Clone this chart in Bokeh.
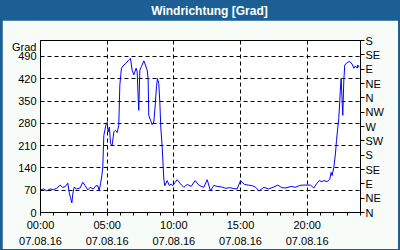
from bokeh.plotting import figure
from bokeh.layouts import column
from bokeh.models import LinearAxis, FixedTicker, Range1d, Label
from bokeh.embed import file_html
from bokeh.resources import INLINE

# ---------------- data ----------------
title_text = "Windrichtung [Grad]"
unit_text = "Grad"

hours = [0.0, 0.22, 0.47, 0.72, 0.97, 1.22, 1.47, 1.65, 1.85, 2.05, 2.15, 2.25, 2.35, 2.42,
         2.52, 2.72, 2.97, 3.17, 3.35, 3.55, 3.72, 3.97, 4.15, 4.3, 4.4, 4.5, 4.6, 4.67,
         4.75, 4.9, 5.0, 5.07, 5.17, 5.25, 5.37, 5.5, 5.62, 5.75, 5.87, 5.95, 6.07, 6.25,
         6.43, 6.62, 6.75, 6.87, 7.0, 7.17, 7.25, 7.33, 7.37, 7.45, 7.57, 7.75, 7.87, 8.0,
         8.07, 8.12, 8.25, 8.37, 8.5, 8.62, 8.7, 8.77, 8.87, 8.95, 9.02, 9.12, 9.25, 9.32,
         9.5, 9.67, 9.8, 9.92, 10.1, 10.25, 10.5, 10.75, 11.0, 11.3, 11.6, 11.9, 12.25,
         12.5, 12.75, 13.0, 13.25, 13.6, 13.9, 14.2, 14.5, 14.75, 15.0, 15.3, 15.6, 15.9,
         16.1, 16.4, 16.75, 17.1, 17.5, 17.8, 18.1, 18.4, 18.8, 19.1, 19.4, 19.6, 19.9,
         20.25, 20.5, 20.7, 20.9, 21.1, 21.25, 21.5, 21.7, 21.8, 21.87, 22.0, 22.12, 22.2,
         22.3, 22.37, 22.45, 22.5, 22.55, 22.62, 22.67, 22.75, 22.82, 23.0, 23.2, 23.37,
         23.5, 23.62, 23.75, 23.8, 23.9]
direction = [71, 74, 68, 74, 72, 76, 86, 79, 81, 92, 63, 47, 30, 58,
             79, 74, 77, 95, 84, 71, 79, 74, 84, 84, 68, 90, 115, 142,
             242, 274, 283, 253, 268, 217, 210, 253, 258, 251, 274, 400, 453, 463,
             469, 479, 484, 447, 432, 453, 442, 358, 321, 447, 458, 476, 463, 447,
             421, 305, 290, 276, 284, 347, 395, 421, 405, 347, 268, 210, 105, 84,
             100, 84, 90, 84, 95, 103, 90, 79, 88, 82, 100, 85, 79,
             103, 68, 85, 82, 80, 76, 78, 75, 74, 100, 88, 86, 84,
             80, 68, 79, 74, 80, 86, 78, 77, 82, 79, 84, 86, 86,
             86, 77, 90, 100, 97, 100, 97, 105, 126, 116, 142, 184, 226,
             268, 295, 353, 395, 421, 353, 305, 416, 463, 471, 474, 466,
             453, 460, 453, 463, 456]

y_ticks = [0, 70, 140, 210, 280, 350, 420, 490]
compass_ticks = [0, 45, 90, 135, 180, 225, 270, 315, 360, 405, 450, 495, 540]
compass_labels = ["N", "NE", "E", "SE", "S", "SW", "W", "NW", "N", "NE", "E", "SE", "S"]
x_ticks = [0, 5, 10, 15, 20]
x_tick_labels = ["00:00\n07.08.16", "05:00\n07.08.16", "10:00\n07.08.16",
                 "15:00\n07.08.16", "20:00\n07.08.16"]

# ---------------- layout geometry ----------------
X0, X1 = 0, 24
Y0, Y1 = 0, 540
W, H = 400, 250
BAR = 20          # title bar height
EDGE = 2          # blue frame width
FW, FH = 320, 172
FL = 40 - EDGE    # frame left inside each figure
FT = 40 - BAR     # frame top inside main figure
MW, MH = W - 2 * EDGE, H - BAR - EDGE
FR = MW - FL - FW
BLUE = "#1c5f94"
LIGHT = "#f8fcf8"
FONT = "Liberation Sans"


def dy(py):
    """canvas pixel row (of the main figure) -> data value"""
    return Y0 + (FT + FH - py) / FH * (Y1 - Y0)


# ---------------- title bar (same borders as the chart so frames line up) ----------------
tb = figure(frame_width=FW, frame_height=BAR,
            min_border_left=FL, min_border_right=FR,
            min_border_top=0, min_border_bottom=0,
            output_backend="svg", toolbar_location=None,
            x_range=Range1d(FL, FL + FW), y_range=Range1d(0, BAR),
            background_fill_color=BLUE, border_fill_color=BLUE,
            outline_line_color=None, x_axis_type=None, y_axis_type=None)
tb.grid.visible = False
tb.add_layout(Label(x=209, y=BAR / 2, text=title_text, text_align="center",
                    text_baseline="middle", text_color="white", text_font=FONT,
                    text_font_size="12px", text_font_style="bold"))

# ---------------- main chart ----------------
p = figure(frame_width=FW, frame_height=FH,
           min_border_left=FL, min_border_right=FR,
           min_border_top=FT, min_border_bottom=MH - FT - FH,
           x_range=Range1d(X0, X1), y_range=Range1d(Y0, Y1),
           output_backend="svg", toolbar_location=None,
           background_fill_color="white", border_fill_color=LIGHT,
           outline_line_color="black", outline_line_alpha=1,
           margin=(0, EDGE, EDGE, EDGE))

p.line(hours, direction, line_color="#0000ff", line_width=1)

# bottom axis
xa = p.xaxis[0]
xa.ticker = FixedTicker(ticks=x_ticks, minor_ticks=list(range(0, 25)))
xa.major_label_overrides = {t: l for t, l in zip(x_ticks, x_tick_labels)}
xa.major_tick_out = 3
xa.major_tick_in = 0
xa.minor_tick_out = 3
xa.minor_tick_in = 0
xa.major_label_standoff = 3
xa.major_label_text_font = FONT
xa.major_label_text_font_size = "11px"
xa.major_label_text_color = "black"
xa.major_label_text_line_height = 1.35
xa.axis_line_color = "black"
xa.major_tick_line_color = "black"
xa.minor_tick_line_color = "black"

# left axis (the unit caption "Grad" sits above the top tick label)
unit_pos = dy(26)
ya = p.yaxis[0]
ya.ticker = FixedTicker(ticks=y_ticks + [unit_pos], minor_ticks=[])
ya.major_label_overrides = {unit_pos: unit_text}
ya.major_tick_out = 0
ya.major_tick_in = 0
ya.minor_tick_line_color = None
ya.major_label_standoff = 4
ya.major_label_text_font = FONT
ya.major_label_text_font_size = "11px"
ya.major_label_text_color = "black"
ya.axis_line_color = "black"

# right compass axis
ra = LinearAxis(ticker=FixedTicker(ticks=compass_ticks, minor_ticks=[]))
ra.major_label_overrides = {t: l for t, l in zip(compass_ticks, compass_labels)}
ra.major_tick_out = 4
ra.major_tick_in = 0
ra.minor_tick_line_color = None
ra.major_label_standoff = 1
ra.major_label_text_font = FONT
ra.major_label_text_font_size = "11px"
ra.major_label_text_color = "black"
ra.axis_line_color = "black"
ra.major_tick_line_color = "black"
p.add_layout(ra, "right")

# grids
p.xgrid.ticker = FixedTicker(ticks=[5, 10, 15, 20])
p.ygrid.ticker = FixedTicker(ticks=y_ticks[1:])
for g in (p.xgrid[0], p.ygrid[0]):
    g.grid_line_color = "black"
    g.grid_line_dash = "4 3"
    g.grid_line_width = 1

layout = column(tb, p, spacing=0, styles={"background-color": BLUE})

open("out.html", "w").write(file_html(layout, INLINE))
